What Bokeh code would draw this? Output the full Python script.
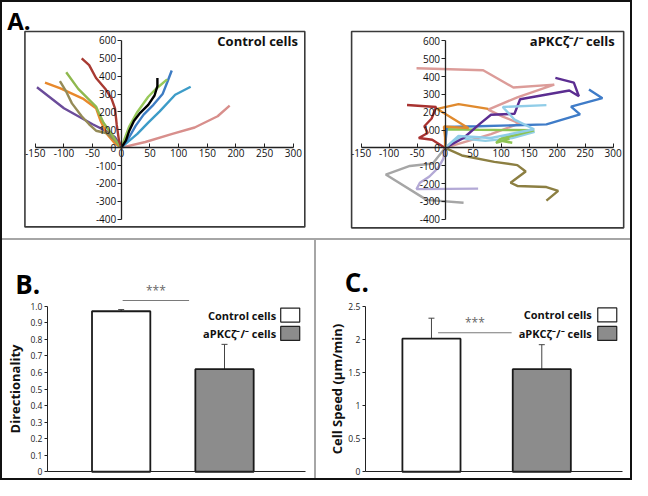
from bokeh.plotting import figure
from bokeh.models import (Range1d, FixedTicker, Label, Whisker, ColumnDataSource, TeeHead, Div,
                          BoxAnnotation)
from bokeh.layouts import row, column
from bokeh.embed import file_html
from bokeh.resources import INLINE
from bokeh.core.properties import value

FONT = "Open Sans"

# ---------------- Panel A: trajectories (µm) ----------------
# Control cells
ctrl_purple_x = [0, -11, -22, -50, -100, -147]
ctrl_purple_y = [0, 59, 86, 131, 221, 338]
ctrl_orange_x = [0, -11, -25, -36, -44, -67, -106, -133]
ctrl_orange_y = [0, 23, 77, 149, 221, 275, 332, 364]
ctrl_olive_x = [0, -8, -14, -25, -44, -56, -69, -86, -97, -107]
ctrl_olive_y = [0, 30, 50, 81, 95, 131, 176, 248, 320, 373]
ctrl_green1_x = [0, -6, -17, -31, -39, -44, -58, -75, -96]
ctrl_green1_y = [0, 23, 77, 140, 194, 230, 275, 329, 422]
ctrl_red_x = [0, -4, -8, -11, -17, -28, -44, -56, -69]
ctrl_red_y = [0, 40, 130, 220, 275, 330, 390, 462, 500]
ctrl_pink_x = [0, 42, 89, 128, 168, 189]
ctrl_pink_y = [0, 32, 77, 113, 176, 235]
ctrl_teal_x = [0, 8, 28, 47, 67, 94, 121]
ctrl_teal_y = [0, 23, 77, 140, 203, 296, 341]
ctrl_blue_x = [0, 14, 25, 39, 56, 72, 80, 88]
ctrl_blue_y = [0, 60, 122, 185, 240, 300, 365, 432]
ctrl_green2_x = [0, 3, 14, 28, 47, 61, 80]
ctrl_green2_y = [0, 25, 120, 200, 285, 330, 382]
ctrl_black_x = [0, 8, 14, 22, 33, 47, 58, 63, 63]
ctrl_black_y = [0, 40, 95, 150, 195, 240, 292, 345, 390]

# aPKCzeta-/- cells
ko_pink_x = [0, 82, 133, 103, 77, 129, 195, 122, 68, -51]
ko_pink_y = [0, 78, 138, 176, 215, 284, 355, 339, 436, 447]
ko_purple_x = [0, 33, 63, 82, 124, 134, 222, 239, 230, 197]
ko_purple_y = [0, 56, 138, 186, 192, 273, 322, 290, 366, 393]
ko_blue_x = [0, 3, 60, 181, 241, 225, 281, 257]
ko_blue_y = [0, 118, 122, 132, 188, 232, 279, 328]
ko_sky1_x = [0, 24, 82, 159, 124, 103, 181]
ko_sky1_y = [0, 67, 56, 105, 159, 230, 240]
ko_sky2_x = [0, 25, 72, 120, 160, 100]
ko_sky2_y = [0, 55, 40, 55, 90, 62]
ko_green_x = [0, 2, 60, 159, 99, 91, 115, 103, 120]
ko_green_y = [0, 105, 102, 99, 51, 29, 51, 38, 29]
ko_orange_x = [0, 0, -2, 42, -14, 24, 77]
ko_orange_y = [0, 60, 120, 111, 219, 246, 219]
ko_red_x = [0, -23, -47, -31, -37, -24, -16, -68]
ko_red_y = [0, 46, 56, 84, 122, 165, 230, 241]
ko_olive_x = [0, 30, 88, 129, 144, 117, 129, 181, 202, 181]
ko_olive_y = [0, -42, -78, -96, -132, -195, -213, -219, -241, -295]
ko_lavender_x = [0, -3, -12, -28, -45, -51, 59]
ko_lavender_y = [0, -60, -110, -160, -195, -231, -228]
ko_gray_x = [0, -22, -63, -106, -33, 33]
ko_gray_y = [0, -87, -101, -149, -291, -307]

a_x_ticks = [-150, -100, -50, 0, 50, 100, 150, 200, 250, 300]
a_x_tick_labels = ["-150", "-100", "-50", "0", "50", "100", "150", "200", "250", "300"]
a_y_ticks = [-400, -300, -200, -100, 0, 100, 200, 300, 400, 500, 600]
a_y_tick_labels = ["-400", "-300", "-200", "-100", "0", "100", "200", "300", "400", "500", "600"]

# ---------------- Panels B and C: bar charts ----------------
groups = ["Control cells", "aPKC\u03b6\u207b/\u207b cells"]
directionality = [0.97, 0.62]
directionality_err_low = [0.96, 0.475]
directionality_err_high = [0.98, 0.77]
speed = [2.01, 1.55]
speed_err_low = [1.69, 1.17]
speed_err_high = [2.32, 1.92]
b_ticks = [0, 0.1, 0.2, 0.3, 0.4, 0.5, 0.6, 0.7, 0.8, 0.9, 1.0]
b_tick_labels = ["0", "0.1", "0.2", "0.3", "0.4", "0.5", "0.6", "0.7", "0.8", "0.9", "1.0"]
c_ticks = [0, 0.5, 1, 1.5, 2, 2.5]
c_tick_labels = ["0", "0.5", "1", "1.5", "2", "2.5"]
significance = "***"

BAR_FILLS = ["#ffffff", "#8c8c8c"]


def base_figure(width, height, xr, yr):
    p = figure(width=width, height=height, x_range=Range1d(*xr), y_range=Range1d(*yr),
               output_backend="svg", toolbar_location=None, title=None,
               min_border_left=0, min_border_right=0, min_border_top=0, min_border_bottom=0)
    p.grid.visible = False
    p.outline_line_color = None
    p.background_fill_color = "white"
    p.border_fill_color = "white"
    return p


def track_figure(width, height, xr, yr, box, tracks, title, title_xy, letter=None, letter_xy=None):
    p = base_figure(width, height, xr, yr)
    p.add_layout(BoxAnnotation(left=box[0], right=box[1], bottom=box[2], top=box[3],
                               fill_color=None, line_color="#3a3a3a", line_alpha=1.0,
                               line_width=1.6))
    for xs, ys, c in tracks:
        p.line(xs, ys, line_color=c, line_width=2.4)
    for ax, ticks, labels in ((p.xaxis, a_x_ticks, a_x_tick_labels), (p.yaxis, a_y_ticks, a_y_tick_labels)):
        ax.fixed_location = 0
        ax.ticker = FixedTicker(ticks=ticks)
        ax.major_label_overrides = dict(zip(ticks, labels))
        ax.bounds = (ticks[0], ticks[-1])
        ax.minor_tick_line_color = None
        ax.axis_line_color = "#222222"
        ax.axis_line_width = 1.3
        ax.major_tick_line_color = "#222222"
        ax.major_label_text_font = FONT
        ax.major_label_text_font_size = "10px"
        ax.major_label_text_color = "#111111"
        ax.major_label_standoff = 1
    p.xaxis.major_tick_in = 4
    p.xaxis.major_tick_out = 0
    p.yaxis.major_tick_in = 0
    p.yaxis.major_tick_out = 4
    p.add_layout(Label(x=title_xy[0], y=title_xy[1], text=title, text_align="right",
                       text_baseline="alphabetic", text_font=FONT, text_font_size="13px",
                       text_font_style="bold", text_color="#111111"))
    if letter:
        p.add_layout(Label(x=letter_xy[0], y=letter_xy[1], text=letter, text_align="left",
                           text_baseline="alphabetic", text_font=FONT, text_font_size="24px",
                           text_font_style="bold", text_color="#000000"))
    return p


ctrl_tracks = [
    (ctrl_purple_x, ctrl_purple_y, "#6b4c9a"),
    (ctrl_orange_x, ctrl_orange_y, "#e8892c"),
    (ctrl_olive_x, ctrl_olive_y, "#958b57"),
    (ctrl_green1_x, ctrl_green1_y, "#8fb84e"),
    (ctrl_red_x, ctrl_red_y, "#a83a32"),
    (ctrl_pink_x, ctrl_pink_y, "#d88f8c"),
    (ctrl_teal_x, ctrl_teal_y, "#3d9cc8"),
    (ctrl_blue_x, ctrl_blue_y, "#3d7cc3"),
    (ctrl_green2_x, ctrl_green2_y, "#98c95a"),
    (ctrl_black_x, ctrl_black_y, "#000000"),
]
ko_tracks = [
    (ko_gray_x, ko_gray_y, "#a6a6a6"),
    (ko_lavender_x, ko_lavender_y, "#b3a9d6"),
    (ko_olive_x, ko_olive_y, "#8c7f42"),
    (ko_red_x, ko_red_y, "#a83230"),
    (ko_pink_x, ko_pink_y, "#dc9c99"),
    (ko_sky2_x, ko_sky2_y, "#93cfe6"),
    (ko_green_x, ko_green_y, "#8dc353"),
    (ko_blue_x, ko_blue_y, "#3f7cc8"),
    (ko_purple_x, ko_purple_y, "#5b2d91"),
    (ko_sky1_x, ko_sky1_y, "#90cde8"),
    (ko_orange_x, ko_orange_y, "#e08a2e"),
]

fa1 = track_figure(314, 236, (-207.1, 340.4), (-507.9, 812.3), (-168, 320, -443, 650),
                   ctrl_tracks, "Control cells", (308, 597), "A.", (-199, 712))
fa2 = track_figure(314, 236, (-229.7, 331.2), (-507.7, 815.7), (-167, 319, -448, 653),
                   ko_tracks, groups[1], (303, 600))


def bar_figure(width, height, xr, yr, positions, vals, lo, hi, ticks, labels, ylabel,
               label_standoff, sig_x, sig_y, star_y, legend_x_text, legend_x_box, legend_y,
               letter, letter_xy):
    p = base_figure(width, height, xr, yr)
    p.vbar(x=positions, top=vals, width=0.79, fill_color=BAR_FILLS, line_color="#1a1a1a",
           line_width=1.8)
    src = ColumnDataSource(dict(x=positions, lower=lo, upper=hi))
    p.add_layout(Whisker(source=src, base="x", lower="lower", upper="upper", dimension="height",
                         line_color="#444444", line_width=1,
                         upper_head=TeeHead(size=6, line_color="#444444", line_width=1),
                         lower_head=TeeHead(size=6, line_color="#444444", line_width=1)))
    # significance bracket
    p.line(sig_x, [sig_y, sig_y], line_color="#7a7a7a", line_width=1.2)
    p.add_layout(Label(x=(sig_x[0] + sig_x[1]) / 2, y=star_y, text=significance,
                       text_align="center", text_baseline="bottom", text_font=FONT,
                       text_font_size="12px", text_color="#666666"))
    # legend (label left of swatch)
    p.text(x=[legend_x_text] * 2, y=legend_y, text=groups, text_align="right",
           text_baseline="middle", text_font=value(FONT), text_font_size="11px",
           text_font_style="bold", text_color="#111111")
    p.rect(x=[legend_x_box] * 2, y=legend_y, width=19, height=14, width_units="screen",
           height_units="screen", fill_color=BAR_FILLS, line_color="#222222", line_width=1.2)
    # axes placed at the data origin
    p.xaxis.fixed_location = 0
    p.xaxis.bounds = (0, 3.5)
    p.xaxis.ticker = FixedTicker(ticks=[])
    p.xaxis.major_tick_line_color = None
    p.xaxis.minor_tick_line_color = None
    p.xaxis.major_label_text_font_size = "0px"
    p.xaxis.axis_line_color = "#222222"
    p.xaxis.axis_line_width = 1.2
    p.yaxis.fixed_location = 0
    p.yaxis.ticker = FixedTicker(ticks=ticks)
    p.yaxis.major_label_overrides = dict(zip(ticks, labels))
    p.yaxis.bounds = (ticks[0], ticks[-1])
    p.yaxis.minor_tick_line_color = None
    p.yaxis.major_tick_in = 0
    p.yaxis.major_tick_out = 3
    p.yaxis.axis_line_color = "#222222"
    p.yaxis.major_tick_line_color = "#222222"
    p.yaxis.major_label_text_font = FONT
    p.yaxis.major_label_text_font_size = "8.5px"
    p.yaxis.major_label_text_color = "#222222"
    p.yaxis.major_label_standoff = 2
    p.yaxis.axis_label = ylabel
    p.yaxis.axis_label_text_font = FONT
    p.yaxis.axis_label_text_font_size = "13px"
    p.yaxis.axis_label_text_font_style = "bold"
    p.yaxis.axis_label_text_color = "#111111"
    p.yaxis.axis_label_standoff = label_standoff
    p.add_layout(Label(x=letter_xy[0], y=letter_xy[1], text=letter, text_align="left",
                       text_baseline="alphabetic", text_font=FONT, text_font_size="26px",
                       text_font_style="bold", text_color="#000000"))
    return p


fb = bar_figure(312, 238, (-0.6075, 3.619), (-0.0409, 1.3977), [1.0, 2.4], directionality,
                directionality_err_low, directionality_err_high, b_ticks, b_tick_labels,
                "Directionality", 4, [1.02, 1.92], 1.035, 1.045, 3.1, 3.29, [0.947, 0.836],
                "B.", (-0.436, 1.136))
fc = bar_figure(314, 238, (-0.663, 3.606), (-0.102, 3.494), [0.9, 2.4], speed,
                speed_err_low, speed_err_high, c_ticks, c_tick_labels,
                "Cell Speed (\u00b5m/min)", 0, [0.99, 1.99], 2.1, 2.13, 3.08, 3.29, [2.37, 2.09],
                "C.", (-0.278, 2.87))

hsep = Div(width=628, height=2, margin=(0, 0, 0, 0), styles={"background-color": "#a6a6a6"})
vsep = Div(width=2, height=238, margin=(0, 0, 0, 0), styles={"background-color": "#a6a6a6"})

layout = column(row(fa1, fa2, spacing=0), hsep, row(fb, vsep, fc, spacing=0), spacing=0,
                styles={"border": "2px solid #111111"})

with open("out.html", "w") as f:
    f.write(file_html(layout, INLINE, "Cell migration"))
